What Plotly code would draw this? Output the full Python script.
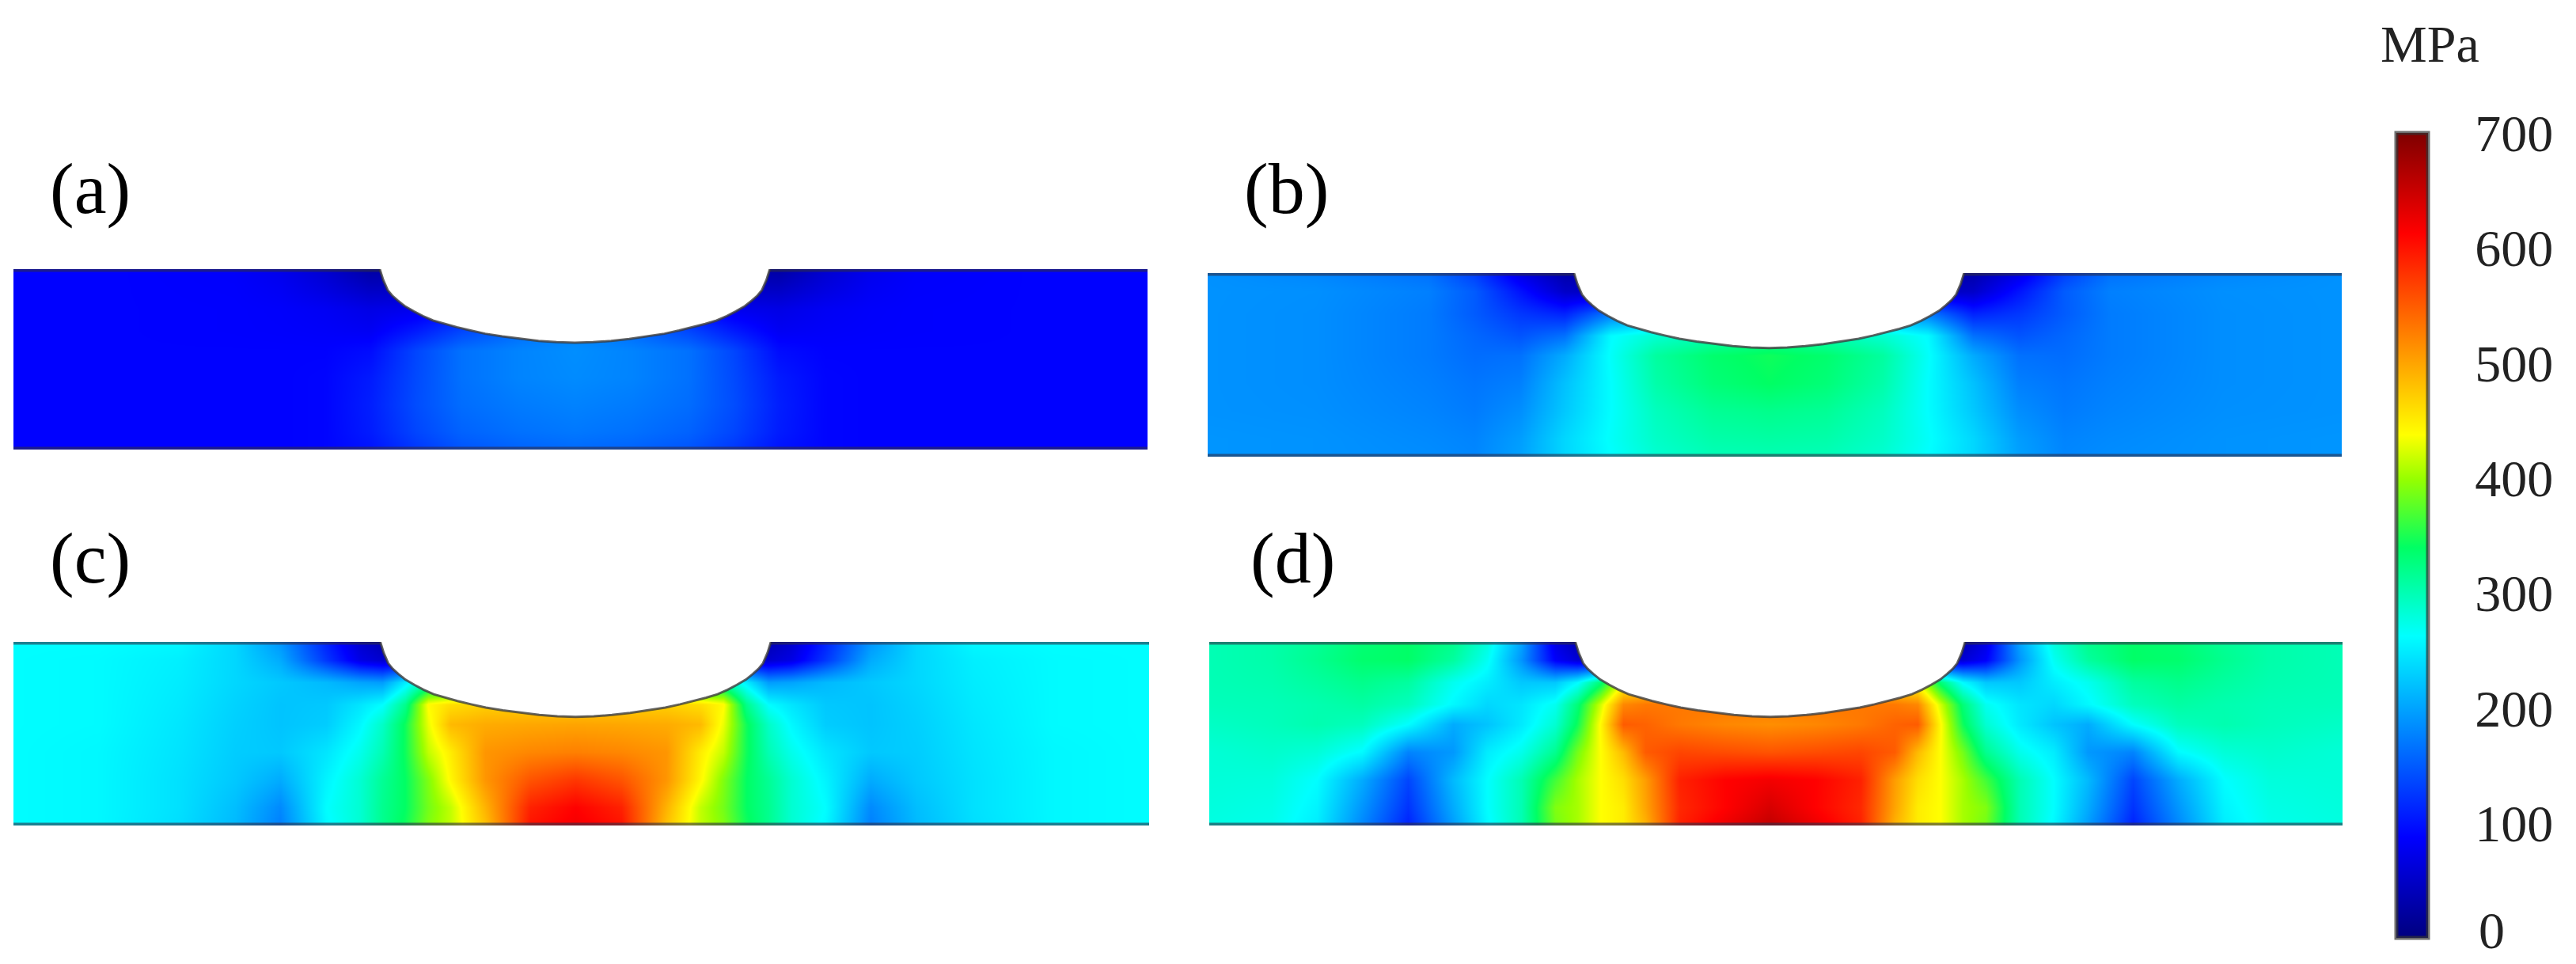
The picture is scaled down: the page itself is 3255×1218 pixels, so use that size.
import plotly.graph_objects as go

W, H = 3255, 1218

# x = distance from notch centre (% of panel width), values mirrored about the centre
# rows go from the top surface (100) to the bottom surface (0), values in MPa
ROWS = [100, 90, 78, 66, 55, 40, 25, 10, 0]
CENTRE = 49.5

D_A = [51, 40, 30, 26, 22, 18, 14, 10, 5, 0]
Z_A = [
    [88, 88, 85, 75, 55, 25, 30, 30, 30, 30],
    [88, 88, 86, 80, 65, 45, 45, 60, 60, 60],
    [88, 88, 87, 85, 80, 70, 75, 95, 120, 140],
    [88, 88, 87, 86, 84, 80, 105, 135, 160, 178],
    [88, 88, 88, 88, 88, 95, 135, 165, 178, 185],
    [88, 88, 88, 88, 90, 105, 138, 165, 178, 183],
    [88, 88, 88, 88, 90, 108, 140, 162, 172, 177],
    [88, 88, 88, 88, 90, 106, 135, 155, 165, 170],
    [88, 88, 88, 88, 90, 100, 125, 145, 155, 160],
]

D_B = [51, 40, 30, 26, 22, 18, 14, 10, 5, 0]
Z_B = [
    [188, 180, 165, 130, 70, 30, 30, 30, 30, 30],
    [188, 186, 175, 150, 100, 50, 45, 45, 45, 45],
    [188, 185, 172, 150, 125, 110, 170, 200, 200, 200],
    [188, 185, 172, 158, 145, 165, 260, 285, 300, 310],
    [188, 185, 172, 162, 165, 205, 265, 310, 335, 345],
    [188, 185, 175, 168, 175, 220, 262, 305, 330, 340],
    [188, 186, 178, 172, 185, 225, 262, 295, 315, 320],
    [190, 188, 182, 178, 195, 235, 265, 290, 305, 308],
    [190, 188, 184, 180, 198, 235, 262, 285, 298, 300],
]

D_C = [51, 42, 35, 30, 26, 22, 19, 17, 15, 13, 11, 8, 4, 0]
Z_C = [
    [262, 262, 258, 235, 190, 110, 55, 35, 30, 30, 30, 30, 30, 30],
    [262, 260, 252, 235, 205, 125, 70, 55, 60, 60, 60, 60, 60, 60],
    [262, 260, 250, 235, 225, 215, 200, 195, 250, 300, 300, 300, 300, 300],
    [262, 260, 248, 232, 222, 225, 245, 262, 320, 440, 460, 470, 470, 470],
    [262, 260, 246, 230, 222, 228, 258, 290, 345, 430, 485, 495, 498, 500],
    [262, 258, 244, 228, 225, 245, 272, 300, 345, 415, 450, 510, 520, 525],
    [262, 258, 242, 225, 205, 255, 285, 315, 340, 390, 442, 510, 555, 575],
    [262, 258, 242, 218, 182, 262, 285, 318, 340, 385, 415, 490, 590, 612],
    [262, 258, 240, 215, 175, 258, 285, 318, 345, 390, 415, 480, 600, 620],
]

D_D = [51, 44, 40, 36, 32, 28, 25, 22, 19, 17, 15, 13, 11, 8, 4, 0]
Z_D = [
    [298, 305, 315, 332, 338, 320, 280, 200, 70, 35, 30, 30, 30, 30, 30, 30],
    [298, 305, 318, 335, 338, 310, 268, 190, 85, 60, 60, 60, 60, 60, 60, 60],
    [298, 302, 310, 320, 310, 270, 250, 225, 225, 260, 330, 430, 450, 450, 450, 450],
    [296, 298, 302, 308, 295, 258, 235, 245, 270, 330, 420, 520, 530, 530, 530, 530],
    [290, 296, 302, 295, 262, 205, 222, 248, 285, 345, 440, 550, 545, 530, 520, 515],
    [282, 288, 282, 260, 178, 192, 250, 272, 318, 385, 437, 485, 550, 565, 560, 555],
    [282, 280, 262, 205, 135, 215, 262, 300, 365, 405, 437, 460, 505, 590, 612, 620],
    [280, 275, 255, 190, 122, 205, 262, 300, 390, 405, 437, 450, 500, 585, 612, 640],
    [278, 272, 250, 180, 110, 195, 258, 300, 385, 405, 437, 450, 490, 590, 625, 655],
]

# notch outline, half width and depth in % of the panel
NOTCH_DX = [17.2, 16.9, 16.5, 16.1, 15.6, 15.0, 14.2, 13.4, 12.5, 11.5, 10.4, 9.2, 7.9, 6.4, 4.8, 3.2, 1.6, 0]
NOTCH_DEPTH = [0, 6, 11.7, 14.7, 17.5, 20.5, 23.4, 26, 28.5, 30.4, 32.2, 34, 35.8, 37.3, 38.7, 39.8, 40.5, 40.8]

PANEL_LABELS = ["(a)", "(b)", "(c)", "(d)"]
CBAR_TICKS = [100, 200, 300, 400, 500, 600, 700]
CBAR_MARKED = [200, 300, 400, 500]

# panel boxes in pixels: left, right, top, bottom
BOXES = [(17, 1450, 340, 568), (1526, 2959, 345, 577), (17, 1452, 811, 1043), (1528, 2960, 811, 1043)]
LABEL_POS = [(114, 238), (1625, 238), (114, 705), (1633, 705)]
CBAR_LEFT, CBAR_RIGHT, CBAR_TOP, CBAR_BOTTOM = 3028, 3068, 168, 1185

JET = [
    [0, "#00007f"], [0.125, "#0000ff"], [0.375, "#00ffff"], [0.485, "#00ff64"],
    [0.57, "#96ff00"], [0.625, "#ffff00"], [0.875, "#ff0000"], [1, "#7f0000"],
]
SERIF = "Liberation Serif"
EDGE = "rgba(45,45,70,0.6)"

fig = go.Figure()

for i, (d, z) in enumerate([(D_A, Z_A), (D_B, Z_B), (D_C, Z_C), (D_D, Z_D)]):
    ax = "" if i == 0 else str(i + 1)
    x = [CENTRE - v for v in d] + [CENTRE + v for v in d[-2::-1]]
    zz = [row + row[-2::-1] for row in z]
    fig.add_trace(go.Heatmap(x=x, y=ROWS[::-1], z=zz[::-1], coloraxis="coloraxis", zsmooth="best",
                             xaxis="x" + ax, yaxis="y" + ax, hoverinfo="skip"))

    # white notch on top of the field
    nx = [CENTRE - v for v in NOTCH_DX] + [CENTRE + v for v in NOTCH_DX[-2::-1]]
    ny = [100 - v for v in NOTCH_DEPTH] + [100 - v for v in NOTCH_DEPTH[-2::-1]]
    fig.add_trace(go.Scatter(x=nx, y=ny, mode="lines", fill="toself", fillcolor="white",
                             line=dict(color="rgba(60,60,60,0.8)", width=3),
                             xaxis="x" + ax, yaxis="y" + ax, showlegend=False, hoverinfo="skip"))
    # top and bottom surfaces
    fig.add_trace(go.Scatter(x=[0, nx[0], None, nx[-1], 100, None, 0, 100],
                             y=[100, 100, None, 100, 100, None, 0, 0], mode="lines",
                             line=dict(color=EDGE, width=7), cliponaxis=False,
                             xaxis="x" + ax, yaxis="y" + ax, showlegend=False, hoverinfo="skip"))

    left, right, top, bottom = BOXES[i]
    axis = dict(visible=False, fixedrange=True)
    fig.update_layout({
        "xaxis" + ax: dict(axis, domain=[left / W, right / W], range=[0, 100]),
        "yaxis" + ax: dict(axis, domain=[1 - bottom / H, 1 - top / H], range=[0, 100]),
    })
    fig.add_annotation(xref="paper", yref="paper", x=LABEL_POS[i][0] / W, y=1 - LABEL_POS[i][1] / H,
                       xanchor="center", yanchor="middle", text=PANEL_LABELS[i], showarrow=False,
                       font=dict(family=SERIF, size=92, color="black"))

fig.add_annotation(xref="paper", yref="paper", x=3070 / W, y=1 - 56 / H, xanchor="center", yanchor="middle",
                   text="MPa", showarrow=False, font=dict(family=SERIF, size=66, color="#222222"))
# the colorbar drops its lowest label, so 0 goes in as text
fig.add_annotation(xref="paper", yref="paper", x=3148 / W, y=1 - 1175 / H, xanchor="center", yanchor="middle",
                   text="0", showarrow=False, font=dict(family=SERIF, size=66, color="#222222"))

for t in CBAR_MARKED:
    py = 1 - (CBAR_BOTTOM - t / 700 * (CBAR_BOTTOM - CBAR_TOP)) / H
    for a, b in [(CBAR_LEFT, CBAR_LEFT + 9), (CBAR_RIGHT - 9, CBAR_RIGHT)]:
        fig.add_shape(type="line", xref="paper", yref="paper", x0=a / W, x1=b / W, y0=py, y1=py,
                      line=dict(color="rgba(30,30,30,0.8)", width=2))

fig.update_layout(
    width=W, height=H, autosize=False,
    margin=dict(l=0, r=0, t=0, b=0),
    paper_bgcolor="white", plot_bgcolor="white",
    showlegend=False,
    coloraxis=dict(
        cmin=0, cmax=700, colorscale=JET,
        colorbar=dict(
            x=CBAR_LEFT / W, xanchor="left", y=1 - CBAR_BOTTOM / H, yanchor="bottom",
            len=(CBAR_BOTTOM - CBAR_TOP) / H, lenmode="fraction",
            thickness=CBAR_RIGHT - CBAR_LEFT, thicknessmode="pixels",
            xpad=0, ypad=0,
            outlinecolor="rgba(50,50,50,0.7)", outlinewidth=5,
            tickmode="array", tickvals=CBAR_TICKS, ticktext=[str(t) for t in CBAR_TICKS],
            ticks="outside", ticklen=44, tickcolor="rgba(0,0,0,0)",
            tickfont=dict(family=SERIF, size=66, color="#222222"),
        ),
    ),
)

fig.write_html("out.html", config=dict(displayModeBar=False), post_script="document.body.style.margin='0';")
